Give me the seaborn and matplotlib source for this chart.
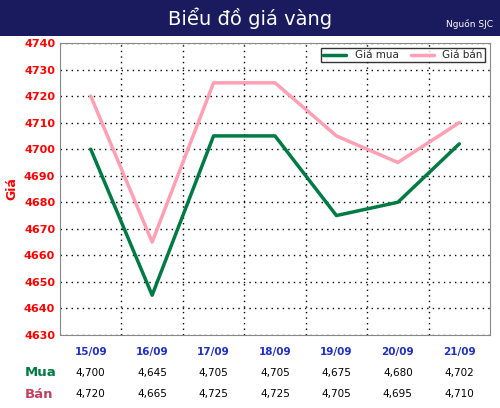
import matplotlib
matplotlib.use("Agg")
import matplotlib.pyplot as plt
import seaborn as sns
import pandas as pd

dates = ["15/09", "16/09", "17/09", "18/09", "19/09", "20/09", "21/09"]
mua = [4700, 4645, 4705, 4705, 4675, 4680, 4702]
ban = [4720, 4665, 4725, 4725, 4705, 4695, 4710]
mua_lbl = ["4,700", "4,645", "4,705", "4,705", "4,675", "4,680", "4,702"]
ban_lbl = ["4,720", "4,665", "4,725", "4,725", "4,705", "4,695", "4,710"]
yticks = list(range(4630, 4741, 10))

sns.set_style("white")
fig = plt.figure(figsize=(5.0, 4.08), dpi=100)
fig.patch.set_facecolor("white")
bar = fig.add_axes([0, 1 - 36/408, 1, 36/408])
bar.set_facecolor("#1a1a5e"); bar.set_xticks([]); bar.set_yticks([])
for s in bar.spines.values(): s.set_visible(False)
fig.text(0.5, 1 - 18/408, "Biểu đồ giá vàng", color="white", fontsize=14, ha="center", va="center")
fig.text(0.985, 1 - 24/408, "Nguồn SJC", color="white", fontsize=6.5, ha="right", va="center")

ax = fig.add_axes([60/500, 1 - 335/408, 430/500, 292/408])
df = pd.DataFrame({"x": range(len(dates)), "Giá mua": mua, "Giá bán": ban})
sns.lineplot(data=df, x="x", y="Giá mua", ax=ax, color="#007a45", lw=2.5, label="Giá mua")
sns.lineplot(data=df, x="x", y="Giá bán", ax=ax, color="#ffa0b4", lw=2.5, label="Giá bán")
ax.set_xlim(-0.5, 6.5)
ax.set_ylim(4630, 4740)
ax.set_yticks(yticks)
ax.set_yticklabels([str(v) for v in yticks], color="red", fontweight="bold", fontsize=8)
ax.set_xticks([i + 0.5 for i in range(6)])
ax.set_xticklabels([])
ax.tick_params(length=0)
ax.grid(True, color="black", linestyle=(0, (1, 3)), lw=1)
for s in ax.spines.values(): s.set_color("#888888")
ax.set_xlabel("")
ax.set_ylabel("Giá", color="red", fontweight="bold", fontsize=9)
ax.legend(loc="upper right", ncol=2, fontsize=7.5, frameon=True, fancybox=False,
          edgecolor="black", handlelength=2.2, borderpad=0.2, columnspacing=1.2)

for i, d in enumerate(dates):
    xf = (60 + 430 * (i + 0.5) / 7) / 500
    fig.text(xf, 1 - 352/408, d, color="#2030c0", fontweight="bold", fontsize=7.5, ha="center", va="center")
    fig.text(xf, 1 - 373/408, mua_lbl[i], color="black", fontsize=7.5, ha="center", va="center")
    fig.text(xf, 1 - 394/408, ban_lbl[i], color="black", fontsize=7.5, ha="center", va="center")
fig.text(25/500, 1 - 373/408, "Mua", color="#007a45", fontweight="bold", fontsize=9.5, ha="left", va="center")
fig.text(25/500, 1 - 394/408, "Bán", color="#c04060", fontweight="bold", fontsize=9.5, ha="left", va="center")
fig.savefig("out.png", dpi=100)
